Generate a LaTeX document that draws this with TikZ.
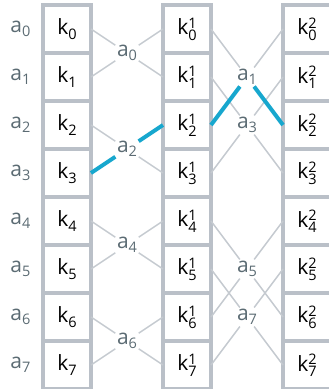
\documentclass[tikz,border=0pt]{standalone}
\usepackage{fontspec}
\setmainfont{Open Sans}
\usetikzlibrary{positioning}
\definecolor{cellgray}{HTML}{BAC0C8}
\definecolor{linegray}{HTML}{C5CAD0}
\definecolor{hlblue}{HTML}{17A7CE}
\definecolor{lblgray}{HTML}{5B6B73}
\newcommand\subsz{\fontsize{14.5}{15}\selectfont}
\newcommand\ksub[1]{k\raisebox{-.25em}{\subsz #1}}
\newcommand\kboth[2]{k\raisebox{-.25em}{\vbox{\subsz\baselineskip=12pt\hbox{#1}\hbox{#2}}}}
\newcommand\asub[1]{a\raisebox{-.2em}{\subsz #1}}
\tikzstyle{cell}=[rectangle,draw=cellgray,line width=4pt,fill=white,minimum size=48pt,inner sep=0pt,outer sep=0pt]
\tikzstyle{lbl}=[text=lblgray,inner sep=1.5pt]
\tikzstyle{wire}=[draw=linegray,line width=1.5pt]
\tikzstyle{hl}=[draw=hlblue,line width=4pt]

\begin{document}
\begin{tikzpicture}[x=1pt,y=1pt,font=\fontsize{21}{25}\selectfont]
\useasboundingbox (0,0) rectangle (329,-389);
% three columns of key cells
\foreach \i in {0,...,7} {
  \node (k0-\i) [cell] at (67,-29-48*\i) {\ksub{\i}};
  \node (k1-\i) [cell] at (187,-29-48*\i) {\kboth{1}{\i}};
  \node (k2-\i) [cell] at (307,-29-48*\i) {\kboth{2}{\i}};
  \node (a-\i) [lbl, left=11pt of k0-\i] {\asub{\i}};
}
% labels at the crossings
\node (m0) [lbl] at (127,-53) {\asub{0}};
\node (m2) [lbl] at (127,-149) {\asub{2}};
\node (m4) [lbl] at (127,-245) {\asub{4}};
\node (m6) [lbl] at (127,-341) {\asub{6}};
\node (m1) [lbl] at (247,-77) {\asub{1}};
\node (m3) [lbl] at (247,-125) {\asub{3}};
\node (m5) [lbl] at (247,-269) {\asub{5}};
\node (m7) [lbl] at (247,-317) {\asub{7}};
\foreach \p/\q in {0/1,2/3,4/5,6/7} {
  \draw [wire] (k0-\p.east) -- (m\p) -- (k1-\q.west);
  \draw [wire] (k0-\q.east) -- (m\p) -- (k1-\p.west);
}
\foreach \p/\q/\m in {0/2/1,1/3/3,4/6/5,5/7/7} {
  \draw [wire] (k1-\p.east) -- (m\m) -- (k2-\q.west);
  \draw [wire] (k1-\q.east) -- (m\m) -- (k2-\p.west);
}
% highlighted path
\draw [hl] (k0-3.east) -- (m2) -- (k1-2.west);
\draw [hl] (k1-2.east) -- (m1) -- (k2-2.west);
\end{tikzpicture}
\end{document}
